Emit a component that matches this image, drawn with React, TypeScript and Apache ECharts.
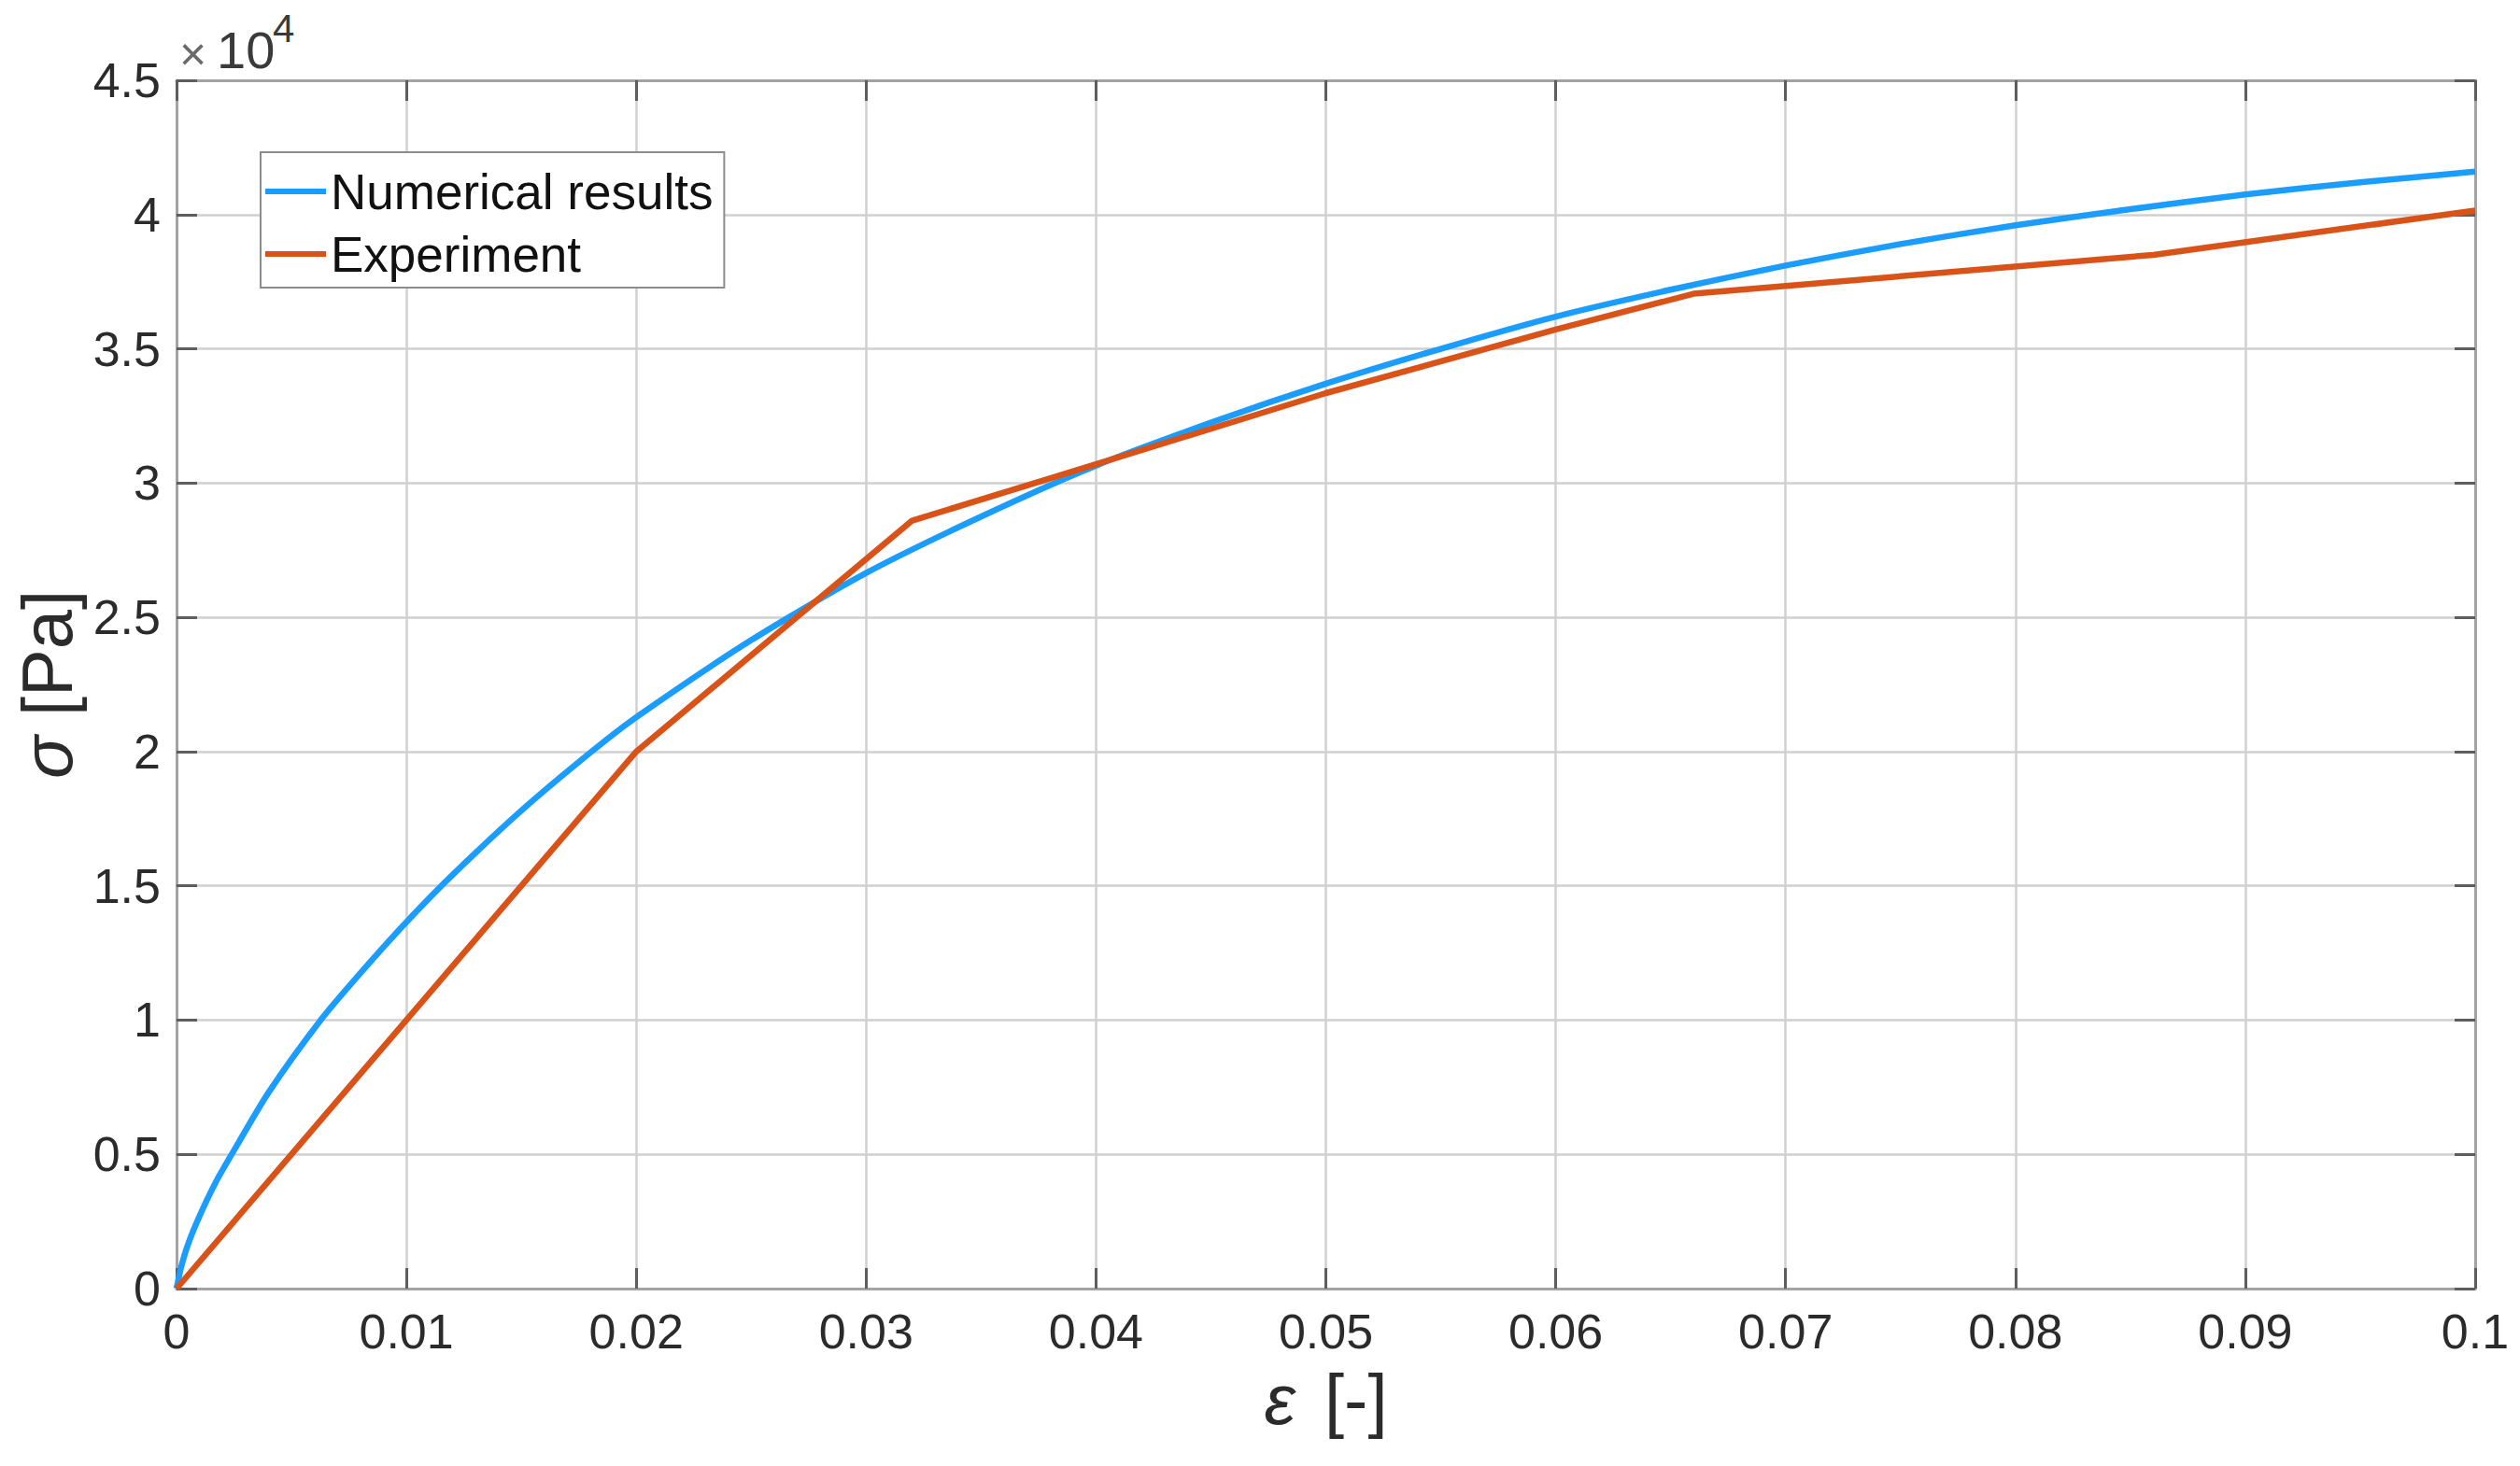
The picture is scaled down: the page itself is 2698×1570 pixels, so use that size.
import React, { useEffect, useRef } from "react";
import * as echarts from "echarts";

// ---- data ----
const seriesNames = ["Numerical results", "Experiment"];

const numericalStrain = [
  0, 0.0002, 0.0005, 0.001, 0.0017, 0.0024, 0.004, 0.00627, 0.008, 0.01, 0.012, 0.015,
  0.018, 0.02, 0.025, 0.03, 0.035, 0.04, 0.045, 0.05, 0.055, 0.06, 0.065, 0.07, 0.075,
  0.08, 0.085, 0.09, 0.095, 0.1,
];
const numericalStress = [
  0, 800, 1650, 2700, 3950, 5000, 7300, 10000, 11750, 13650, 15400, 17800,
  19960, 21280, 24150, 26650, 28750, 30650, 32250, 33700, 35000, 36200, 37200, 38100, 38900,
  39600, 40200, 40750, 41200, 41600,
];

const experimentStrain = [0, 0.02, 0.032, 0.04, 0.05, 0.06, 0.066, 0.086, 0.1];
const experimentStress = [0, 20000, 28600, 30700, 33350, 35720, 37050, 38500, 40150];

const xTickLabels = ["0", "0.01", "0.02", "0.03", "0.04", "0.05", "0.06", "0.07", "0.08", "0.09", "0.1"];
const yTickLabels = ["0", "0.5", "1", "1.5", "2", "2.5", "3", "3.5", "4", "4.5"];
const exponentTimes = "×";
const exponentBase = "10";
const exponentPower = "4";

const FONT = "'Liberation Sans', Arial, Helvetica, sans-serif";
const BLUE = "#1a9dff";
const ORANGE = "#d95319";
const AXIS = "#a3a3a3";
const TICK = "#5e5e5e";
const GRID = "#d0d0d0";
const LABEL = "#2b2b2b";

export default function App() {
  const ref = useRef<HTMLDivElement>(null);

  useEffect(() => {
    if (!ref.current) return;
    const chart = echarts.init(ref.current, undefined, { renderer: "svg" });

    const numData = numericalStrain.map((x, i) => [x, numericalStress[i]]);
    const expData = experimentStrain.map((x, i) => [x, experimentStress[i]]);

    const xFmt = (v: number) => xTickLabels[Math.round(v / 0.01)] ?? "";
    const yFmt = (v: number) => yTickLabels[Math.round(v / 5000)] ?? "";

    const xBase = {
      type: "value" as const,
      min: 0,
      max: 0.1,
      interval: 0.01,
      axisLine: { show: true, onZero: false, lineStyle: { color: AXIS, width: 3 } },
      axisTick: { show: true, inside: true, length: 22, lineStyle: { color: TICK, width: 3 } },
    };
    const yBase = {
      type: "value" as const,
      min: 0,
      max: 45000,
      interval: 5000,
      axisLine: { show: true, onZero: false, lineStyle: { color: AXIS, width: 3 } },
      axisTick: { show: true, inside: true, length: 22, lineStyle: { color: TICK, width: 3 } },
    };

    chart.setOption({
      animation: false,
      backgroundColor: "#ffffff",
      grid: { left: 189, right: 48, top: 86, bottom: 190, containLabel: false },
      xAxis: [
        {
          ...xBase,
          position: "bottom",
          axisLabel: { formatter: xFmt, fontSize: 52, fontFamily: FONT, color: LABEL, margin: 20 },
          splitLine: { show: true, lineStyle: { color: GRID, width: 2.5 } },
          name: "{i|ε} [-]",
          nameLocation: "middle",
          nameGap: 80,
          nameTextStyle: {
            fontSize: 76,
            fontFamily: FONT,
            color: LABEL,
            rich: {
              i: { fontSize: 76, fontFamily: FONT, fontStyle: "italic", color: LABEL, padding: [0, 10, 0, 0] },
            },
          },
        },
        {
          ...xBase,
          position: "top",
          axisLabel: { show: false },
          splitLine: { show: false },
        },
      ],
      yAxis: [
        {
          ...yBase,
          position: "left",
          axisLabel: { formatter: yFmt, fontSize: 52, fontFamily: FONT, color: LABEL, margin: 17 },
          splitLine: { show: true, lineStyle: { color: GRID, width: 2.5 } },
          name: "{i|σ} [Pa]",
          nameLocation: "middle",
          nameGap: 98,
          nameTextStyle: {
            fontSize: 76,
            fontFamily: FONT,
            color: LABEL,
            rich: {
              i: { fontSize: 76, fontFamily: FONT, fontStyle: "italic", color: LABEL },
            },
          },
        },
        {
          ...yBase,
          position: "right",
          axisLabel: { show: false },
          splitLine: { show: false },
        },
      ],
      legend: {
        orient: "vertical",
        left: 279,
        top: 163,
        align: "left",
        icon: "rect",
        itemWidth: 65,
        itemHeight: 6,
        itemGap: 9,
        padding: [13, 12, 7, 5],
        borderColor: "#8c8c8c",
        borderWidth: 2,
        backgroundColor: "#ffffff",
        textStyle: { fontSize: 53, fontFamily: FONT, color: "#111", lineHeight: 58 },
        data: seriesNames,
      },
      graphic: [
        {
          type: "text",
          x: 192,
          y: 58,
          style: { text: exponentTimes, fontSize: 50, fontFamily: FONT, fill: "#6a6a6a", verticalAlign: "middle" },
        },
        {
          type: "text",
          x: 232,
          y: 53,
          style: { text: exponentBase, fontSize: 56, fontFamily: FONT, fill: "#3a3a3a", verticalAlign: "middle" },
        },
        {
          type: "text",
          x: 292,
          y: 30,
          style: { text: exponentPower, fontSize: 42, fontFamily: FONT, fill: "#3a3a3a", verticalAlign: "middle" },
        },
      ],
      series: [
        {
          name: seriesNames[0],
          type: "line",
          data: numData,
          xAxisIndex: 0,
          yAxisIndex: 0,
          showSymbol: false,
          symbol: "none",
          smooth: 0.25,
          color: BLUE,
          lineStyle: { color: BLUE, width: 6.5 },
          z: 3,
        },
        {
          name: seriesNames[1],
          type: "line",
          data: expData,
          xAxisIndex: 0,
          yAxisIndex: 0,
          showSymbol: false,
          symbol: "none",
          color: ORANGE,
          lineStyle: { color: ORANGE, width: 6.5 },
          z: 4,
        },
      ],
    });

    return () => chart.dispose();
  }, []);

  return (
    <div
      ref={ref}
      style={{ position: "absolute", left: 0, top: 0, width: 2698, height: 1570, background: "#fff" }}
    />
  );
}
